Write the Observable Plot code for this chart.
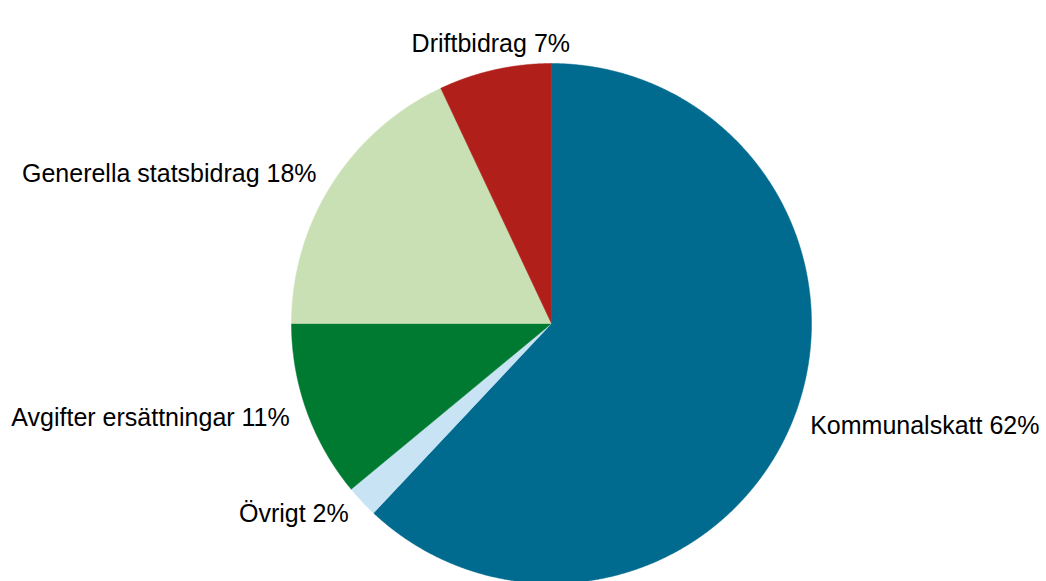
<!DOCTYPE html>
<html><head><meta charset="utf-8">
<script src="https://cdn.jsdelivr.net/npm/d3@7"></script>
<script src="https://cdn.jsdelivr.net/npm/@observablehq/plot@0.6"></script>
<style>html,body{margin:0;padding:0;background:#fff;overflow:hidden}</style>
</head><body><div id="chart"></div>
<script>
const categories = ["Kommunalskatt", "Övrigt", "Avgifter ersättningar", "Generella statsbidrag", "Driftbidrag"];
const values = [62, 2, 11, 18, 7];
const labels = ["Kommunalskatt 62%", "Övrigt 2%", "Avgifter ersättningar 11%", "Generella statsbidrag 18%", "Driftbidrag 7%"];
const colors = ["#006a8f", "#c8e4f4", "#007a30", "#c9e0b4", "#b01f1a"];

// slice outlines from d3.pie angles (clockwise from 12 o'clock), unit radius
const arcs = d3.pie().sort(null).value((d, i) => values[i])(categories);
const pts = [];
arcs.forEach((a, i) => {
  const name = categories[i];
  pts.push({name, x: 0, y: 0});
  const n = Math.max(4, Math.ceil((a.endAngle - a.startAngle) / 0.004));
  for (let k = 0; k <= n; k++) {
    const t = a.startAngle + (a.endAngle - a.startAngle) * k / n;
    pts.push({name, x: Math.sin(t), y: Math.cos(t)});
  }
  pts.push({name, x: 0, y: 0});
});

const LR = 1.07;
const lab = arcs.map((a, i) => {
  const m = (a.startAngle + a.endAngle) / 2;
  const s = Math.sin(m);
  return {text: labels[i], x: LR * s, y: LR * Math.cos(m),
          side: Math.abs(s) < 0.35 ? "top" : (s > 0 ? "right" : "left")};
});

const pieR = 260, pieH = 581, pieTop = 63;
const chart = Plot.plot({
  width: 1046, height: pieH,
  marginLeft: 291, marginRight: 1046 - 291 - 2 * pieR, marginTop: pieTop, marginBottom: 0,
  x: {domain: [-1, 1], axis: null},
  y: {domain: [1 - (pieH - pieTop) / pieR, 1], axis: null},
  color: {domain: categories, range: colors},
  style: {fontFamily: "'Liberation Sans', Arial, sans-serif", background: "#fff"},
  marks: [
    Plot.line(pts, {x: "x", y: "y", z: "name", fill: "name", stroke: "name", strokeWidth: 0.5}),
    Plot.text(lab.filter(d => d.side === "right"), {x: "x", y: "y", text: "text", textAnchor: "start", lineAnchor: "middle", fontSize: 25, fill: "#000"}),
    Plot.text(lab.filter(d => d.side === "left"), {x: "x", y: "y", text: "text", textAnchor: "end", lineAnchor: "middle", fontSize: 25, fill: "#000"}),
    Plot.text(lab.filter(d => d.side === "top"), {x: "x", y: "y", text: "text", textAnchor: "middle", lineAnchor: "bottom", fontSize: 25, fill: "#000"})
  ]
});
document.getElementById("chart").append(chart);
</script>
</body></html>
